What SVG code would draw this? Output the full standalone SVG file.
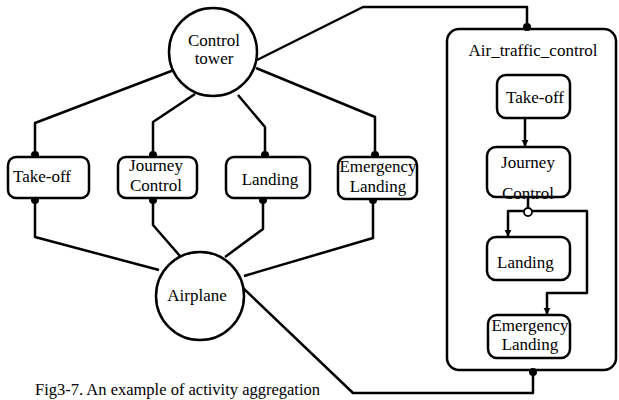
<svg xmlns="http://www.w3.org/2000/svg" width="619" height="400" viewBox="0 0 619 400">
<defs>
<marker id="arr" viewBox="0 0 10 10" refX="9" refY="5" markerWidth="7" markerHeight="9" markerUnits="userSpaceOnUse" orient="auto"><path d="M0,0 L10,5 L0,10 z" fill="#000"/></marker>
</defs>
<style>
.n{fill:#fff;stroke:#000;stroke-width:2.5}
.b{fill:none;stroke:#000;stroke-width:2.5}
.c{fill:none;stroke:#000;stroke-width:2.5;stroke-linejoin:round}
.d{fill:#000}
.o{fill:#fff;stroke:#000;stroke-width:1.8}
text{font-family:'Liberation Serif','Times New Roman',serif;font-size:17px;fill:#000}
.m{text-anchor:middle}
</style>
<rect width="619" height="400" fill="#fff"/>
<g id="air_traffic_control">
<rect class="b" x="447" y="29" width="169" height="341" rx="12"/>
<text x="533" y="56" class="m">Air_traffic_control</text>
</g>
<g id="connectors">
<path class="c" d="M174,70 L35,123 L35,155"/>
<path class="c" d="M195,94 L153,122 L153,155"/>
<path class="c" d="M238,95 L265,127 L265,155"/>
<path class="c" d="M256,68 L375,117 L375,155"/>
<path class="c" d="M257,60 L363,7 L527,7 L527,29"/>
<path class="c" d="M159,270 L35,237 L35,200"/>
<path class="c" d="M180,256 L153,225 L153,200"/>
<path class="c" d="M225,257 L263,229 L263,200"/>
<path class="c" d="M244,276 L373,238 L373,200"/>
<path class="c" d="M242,287 L353,393 L533,393 L533,370"/>
<path class="c" d="M525,118 L525,146" marker-end="url(#arr)"/>
<path class="c" d="M528,197 L528,210"/>
<path class="c" d="M524,211 L508,211 L508,236" marker-end="url(#arr)"/>
<path class="c" d="M532,211 L587,211 L587,293 L547,293 L547,314" marker-end="url(#arr)"/>
<circle class="d" cx="35" cy="155" r="4"/>
<circle class="d" cx="153" cy="155" r="4"/>
<circle class="d" cx="265" cy="155" r="4"/>
<circle class="d" cx="375" cy="155" r="4"/>
<circle class="d" cx="35" cy="200" r="4"/>
<circle class="d" cx="153" cy="200" r="4"/>
<circle class="d" cx="263" cy="200" r="4"/>
<circle class="d" cx="373" cy="200" r="4"/>
<circle class="d" cx="527" cy="27" r="4"/>
<circle class="d" cx="533" cy="372" r="4"/>
<circle class="o" cx="528" cy="212" r="4"/>
</g>
<g id="control_tower">
<circle class="n" cx="213" cy="52" r="44"/>
<text x="214" y="46" class="m">Control</text>
<text x="214" y="64" class="m">tower</text>
</g>
<g id="airplane">
<circle class="n" cx="200" cy="296" r="44"/>
<text x="197" y="301" class="m">Airplane</text>
</g>
<g id="takeoff">
<rect class="n" x="8" y="157" width="81" height="41" rx="8"/>
<text x="13" y="182">Take-off</text>
</g>
<g id="journey_control">
<rect class="n" x="118" y="157" width="79" height="41" rx="8"/>
<text x="156" y="171" class="m">Journey</text>
<text x="156" y="191" class="m">Control</text>
</g>
<g id="landing">
<rect class="n" x="226" y="157" width="84" height="41" rx="8"/>
<text x="270" y="185" class="m">Landing</text>
</g>
<g id="emergency_landing">
<rect class="n" x="338" y="157" width="79" height="42" rx="8"/>
<text x="378" y="172" class="m">Emergency</text>
<text x="378" y="192" class="m">Landing</text>
</g>
<g id="inner_takeoff">
<rect class="n" x="497" y="75" width="73" height="43" rx="9"/>
<text x="535" y="103" class="m">Take-off</text>
</g>
<g id="inner_journey">
<rect class="n" x="487" y="147" width="83" height="50" rx="9"/>
<text x="528" y="168" class="m">Journey</text>
<text x="528" y="199" class="m">Control</text>
</g>
<g id="inner_landing">
<rect class="n" x="487" y="237" width="83" height="43" rx="9"/>
<text x="497" y="268">Landing</text>
</g>
<g id="inner_emergency">
<rect class="n" x="488" y="315" width="82" height="43" rx="9"/>
<text x="530" y="331" class="m">Emergency</text>
<text x="530" y="350" class="m">Landing</text>
</g>
<text x="35" y="395" style="font-size:16.5px">Fig3-7. An example of activity aggregation</text>
</svg>
